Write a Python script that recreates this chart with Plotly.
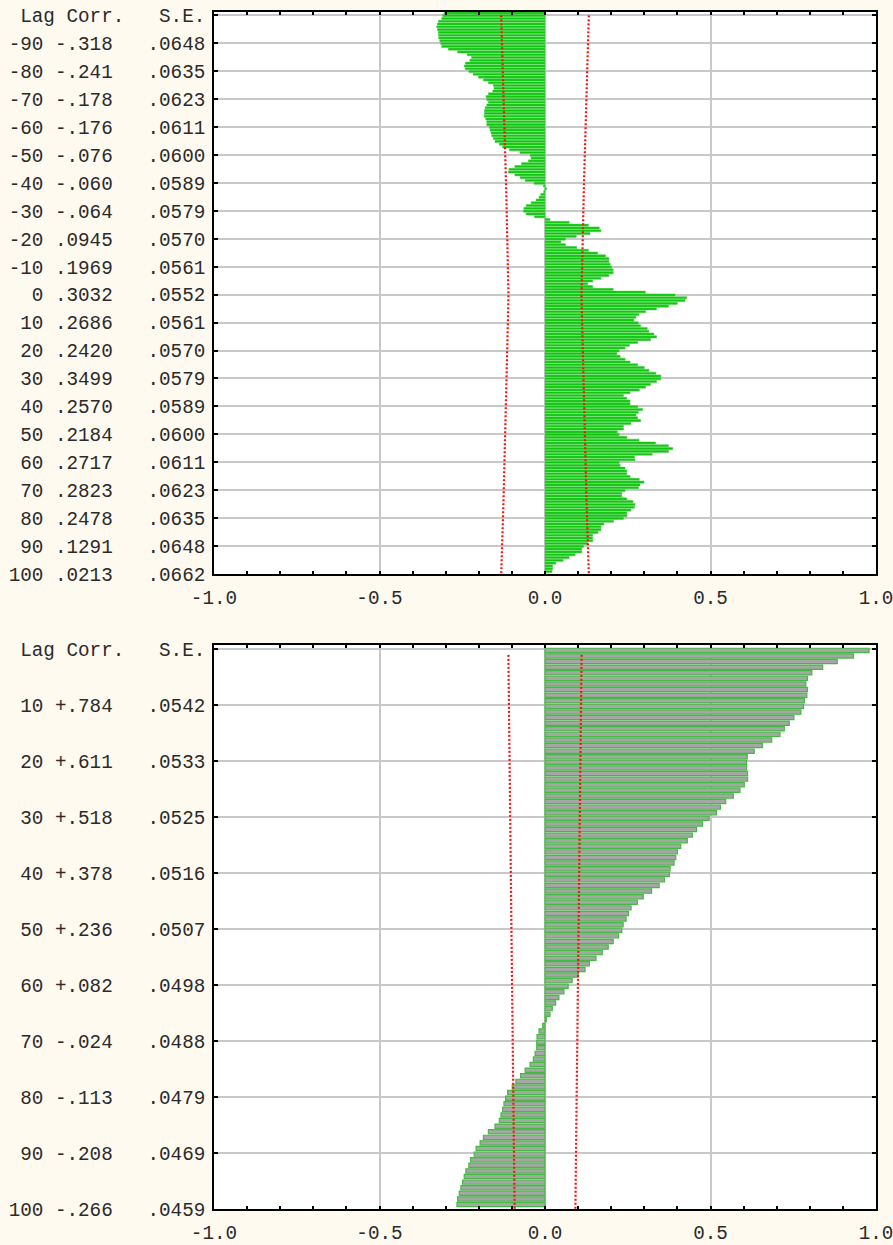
import plotly.graph_objects as go

# ---------------------------------------------------------------------------
# Cross-correlation function, lags -100 .. 100
# ---------------------------------------------------------------------------
cc_lags = list(range(-100, 101))
cc_values = [
    -0.305, -0.309, -0.312, -0.322, -0.325, -0.327, -0.325, -0.322, -0.322, -0.321,   # -100 .. -91
    -0.318, -0.315, -0.312, -0.292, -0.264, -0.235, -0.222, -0.227, -0.240, -0.244,   # -90 .. -81
    -0.241, -0.230, -0.217, -0.201, -0.186, -0.171, -0.156, -0.154, -0.158, -0.171,   # -80 .. -71
    -0.178, -0.176, -0.171, -0.176, -0.181, -0.183, -0.183, -0.184, -0.179, -0.176,   # -70 .. -61
    -0.176, -0.168, -0.166, -0.163, -0.161, -0.156, -0.151, -0.138, -0.128, -0.108,   # -60 .. -51
    -0.076, -0.045, -0.042, -0.050, -0.071, -0.091, -0.109, -0.111, -0.091, -0.075,   # -50 .. -41
    -0.060, -0.033, -0.005, 0.005, -0.004, -0.013, -0.018, -0.027, -0.042, -0.057,    # -40 .. -31
    -0.064, -0.065, -0.057, -0.032, 0.015, 0.073, 0.131, 0.164, 0.169, 0.136,         # -30 .. -21
    0.0945, 0.062, 0.048, 0.062, 0.096, 0.131, 0.159, 0.183, 0.193, 0.193,            # -20 .. -11
    0.1969, 0.201, 0.206, 0.206, 0.193, 0.169, 0.144, 0.129, 0.144, 0.206,            # -10 .. -1
    0.3032, 0.393, 0.428, 0.423, 0.400, 0.373, 0.337, 0.304, 0.284, 0.275,            # 0 .. 9
    0.2686, 0.282, 0.289, 0.309, 0.314, 0.329, 0.337, 0.319, 0.280, 0.255,            # 10 .. 19
    0.2420, 0.224, 0.217, 0.227, 0.242, 0.257, 0.280, 0.300, 0.314, 0.335,            # 20 .. 29
    0.3499, 0.350, 0.337, 0.319, 0.304, 0.285, 0.257, 0.237, 0.247, 0.257,            # 30 .. 39
    0.2570, 0.280, 0.295, 0.282, 0.275, 0.280, 0.289, 0.260, 0.237, 0.237,            # 40 .. 49
    0.2184, 0.224, 0.247, 0.284, 0.334, 0.373, 0.386, 0.373, 0.324, 0.270,            # 50 .. 59
    0.2717, 0.224, 0.227, 0.242, 0.247, 0.247, 0.257, 0.285, 0.299, 0.287,            # 60 .. 69
    0.2823, 0.242, 0.232, 0.232, 0.247, 0.266, 0.272, 0.270, 0.260, 0.247,            # 70 .. 79
    0.2478, 0.237, 0.207, 0.178, 0.169, 0.169, 0.160, 0.144, 0.144, 0.144,            # 80 .. 89
    0.1291, 0.116, 0.111, 0.111, 0.091, 0.073, 0.055, 0.033, 0.023, 0.023,            # 90 .. 99
    0.0213,                                                                            # 100
]
cc_se_lags = list(range(-100, 101, 10))
cc_se = [0.0662, 0.0648, 0.0635, 0.0623, 0.0611, 0.0600, 0.0589, 0.0579, 0.0570, 0.0561,
         0.0552, 0.0561, 0.0570, 0.0579, 0.0589, 0.0600, 0.0611, 0.0623, 0.0635, 0.0648,
         0.0662]
cc_label_lags = list(range(-90, 101, 10))

# ---------------------------------------------------------------------------
# Autocorrelation function, lags 1 .. 100
# ---------------------------------------------------------------------------
ac_lags = list(range(1, 101))
ac_values = [
    0.979, 0.932, 0.883, 0.839, 0.806, 0.793, 0.788, 0.793, 0.791, 0.784,      # 1 .. 10
    0.781, 0.773, 0.752, 0.738, 0.723, 0.710, 0.685, 0.657, 0.632, 0.611,      # 11 .. 20
    0.609, 0.609, 0.612, 0.612, 0.602, 0.589, 0.569, 0.546, 0.530, 0.518,      # 21 .. 30
    0.496, 0.476, 0.458, 0.445, 0.430, 0.410, 0.400, 0.395, 0.390, 0.378,      # 31 .. 40
    0.376, 0.361, 0.345, 0.322, 0.297, 0.279, 0.260, 0.252, 0.245, 0.236,      # 41 .. 50
    0.232, 0.222, 0.206, 0.191, 0.173, 0.154, 0.134, 0.121, 0.101, 0.082,      # 51 .. 60
    0.070, 0.057, 0.042, 0.032, 0.022, 0.015, 0.004, -0.007, -0.018, -0.024,   # 61 .. 70
    -0.025, -0.025, -0.030, -0.035, -0.045, -0.060, -0.074, -0.088, -0.099, -0.113,  # 71 .. 80
    -0.119, -0.124, -0.128, -0.133, -0.138, -0.151, -0.171, -0.186, -0.196, -0.208,  # 81 .. 90
    -0.214, -0.225, -0.230, -0.239, -0.244, -0.249, -0.254, -0.259, -0.264, -0.266,  # 91 .. 100
]
ac_se_lags = [1, 10, 20, 30, 40, 50, 60, 70, 80, 90, 100]
ac_se = [0.0553, 0.0542, 0.0533, 0.0525, 0.0516, 0.0507, 0.0498, 0.0488, 0.0479, 0.0469, 0.0459]
ac_label_lags = list(range(10, 101, 10))

assert len(cc_values) == len(cc_lags)
assert len(ac_values) == len(ac_lags)

# ---------------------------------------------------------------------------
# Row labels on the left: "Lag Corr.   S.E."
# ---------------------------------------------------------------------------
NB = "\u00a0"


def row(parts):
    return "".join(parts).replace(" ", NB)


def cc_corr_text(v):
    if v < 0:
        return "-" + f"{abs(v):.3f}"[1:]
    return f"{v:.4f}"[1:]


def ac_corr_text(v):
    return ("+" if v >= 0 else "-") + f"{abs(v):.3f}"[1:]


HEADER = row([" Lag Corr.   S.E."])

cc_tickvals = [-100] + cc_label_lags
cc_ticktext = [HEADER]
for lag in cc_label_lags:
    v = cc_values[cc_lags.index(lag)]
    s = cc_se[cc_se_lags.index(lag)]
    cc_ticktext.append(row([f"{lag:>3d} ", f"{cc_corr_text(v):<5}", "   ", f"{s:.4f}"[1:]]))

ac_tickvals = [0] + ac_label_lags
ac_ticktext = [HEADER]
for lag in ac_label_lags:
    v = ac_values[ac_lags.index(lag)]
    s = ac_se[ac_se_lags.index(lag)]
    ac_ticktext.append(row([f"{lag:>3d} ", f"{ac_corr_text(v):<5}", "   ", f"{s:.4f}"[1:]]))

x_tickvals = [-1.0, -0.5, 0.0, 0.5, 1.0]
x_ticktext = ["-1.0", "-0.5", "0.0", "0.5", "1.0"]

# ---------------------------------------------------------------------------
# Styles
# ---------------------------------------------------------------------------
MONO = dict(family="Liberation Mono, Courier New, monospace", size=19.3, color="#2a2a2a")
GRID = "#c8c8c8"
RED_DOTS = dict(color="#ff1010", width=2.2, dash="2px,2px")

fig = go.Figure()

# top panel: cross-correlation bars
fig.add_trace(go.Bar(
    x=cc_values, y=cc_lags, orientation="h",
    width=0.75, offset=-1.27,
    marker=dict(color="#12c412", line=dict(color="#3ad23a", width=0.5)),
    xaxis="x", yaxis="y", hoverinfo="skip",
))
fig.add_trace(go.Scatter(
    x=[2 * s for s in cc_se], y=cc_se_lags, mode="lines", line=RED_DOTS,
    xaxis="x", yaxis="y", hoverinfo="skip",
))
fig.add_trace(go.Scatter(
    x=[-2 * s for s in cc_se], y=cc_se_lags, mode="lines", line=RED_DOTS,
    xaxis="x", yaxis="y", hoverinfo="skip",
))

# bottom panel: autocorrelation bars
fig.add_trace(go.Bar(
    x=ac_values, y=ac_lags, orientation="h",
    width=0.76, offset=-1.18,
    marker=dict(color="#a6a6a6", line=dict(color="#45b945", width=1.2)),
    xaxis="x2", yaxis="y2", hoverinfo="skip",
))
fig.add_trace(go.Scatter(
    x=[2 * s for s in ac_se], y=ac_se_lags, mode="lines", line=RED_DOTS,
    xaxis="x2", yaxis="y2", hoverinfo="skip",
))
fig.add_trace(go.Scatter(
    x=[-2 * s for s in ac_se], y=ac_se_lags, mode="lines", line=RED_DOTS,
    xaxis="x2", yaxis="y2", hoverinfo="skip",
))


def x_axis(anchor):
    return dict(
        anchor=anchor, domain=[0, 1], range=[-1, 1],
        tickmode="array", tickvals=x_tickvals, ticktext=x_ticktext,
        ticks="inside", ticklen=3, tickwidth=1.5, tickcolor="#000",
        showline=True, linecolor="#000", linewidth=1.6, mirror="ticks",
        showgrid=True, gridcolor=GRID, gridwidth=1.5, zeroline=False,
        minor=dict(tickmode="linear", tick0=0, dtick=0.1, ticks="inside",
                   ticklen=3, tickwidth=1.5, tickcolor="#000", showgrid=False),
        tickfont=MONO, ticklabeloverflow="allow", ticklabelstandoff=5,
        fixedrange=True,
    )


def y_axis(anchor, domain, rng, tickvals, ticktext):
    return dict(
        anchor=anchor, domain=domain, range=rng,
        tickmode="array", tickvals=tickvals, ticktext=ticktext,
        ticks="inside", ticklen=4, tickwidth=1.5, tickcolor="#000",
        showline=True, linecolor="#000", linewidth=1.6, mirror="ticks",
        showgrid=True, gridcolor=GRID, gridwidth=1.5, zeroline=False,
        tickfont=MONO, ticklabelstandoff=3, fixedrange=True,
    )


fig.update_layout(
    width=893, height=1245,
    margin=dict(l=214, r=17, t=12, b=36, autoexpand=False),
    paper_bgcolor="#fffaf0", plot_bgcolor="#ffffff",
    showlegend=False, barmode="overlay",
    xaxis=x_axis("y"),
    yaxis=y_axis("x", [0.5305, 1.0], [100, -101.2], cc_tickvals, cc_ticktext),
    xaxis2=x_axis("y2"),
    yaxis2=y_axis("x2", [0.0, 0.4712], [100, -0.77], ac_tickvals, ac_ticktext),
)

fig.write_html("out.html")
